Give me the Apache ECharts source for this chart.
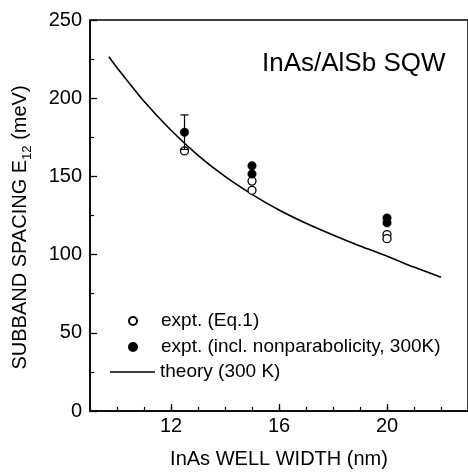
<!DOCTYPE html>
<html>
<head>
<meta charset="utf-8">
<script src="https://cdn.jsdelivr.net/npm/echarts@6/dist/echarts.min.js"></script>
<style>
html,body{margin:0;padding:0;background:#fff;}
#c{width:468px;height:474px;}
</style>
</head>
<body>
<div id="c"></div>
<script>
// ---- data ----
const eq1Width = [12.5, 15, 15, 20, 20];
const eq1Values = [166.3, 147, 141.1, 112.8, 110.2];
const nonparWidth = [12.5, 15, 15, 20, 20];
const nonparValues = [178.2, 156.8, 151.6, 123.4, 120.3];
const errWidth = [12.5];
const errLow = [167.3];
const errHigh = [189.3];
const theoryWidth = [9.7, 10, 11, 12, 13, 14, 15, 16, 17, 18, 19, 20, 21, 22];
const theoryValues = [226.5, 219.5, 198, 179.5, 163.5, 150, 138.5, 128.5, 120, 112.5, 105.5, 99, 92, 85.5];
const xTickLabels = [12, 16, 20];
const seriesNames = ['expt. (Eq.1)', 'expt. (incl. nonparabolicity, 300K)', 'theory (300 K)'];
const titleText = 'InAs/AlSb SQW';

const FONT = 'Liberation Sans, Arial, Helvetica, sans-serif';
const chart = echarts.init(document.getElementById('c'), null, {renderer: 'canvas'});

const pairs = (xs, ys) => xs.map((x, i) => [x, ys[i]]);

const option = {
  backgroundColor: '#fff',
  animation: false,
  title: {
    text: titleText, left: 262, top: 51, padding: 0,
    textStyle: {fontFamily: FONT, fontSize: 26, fontWeight: 'normal', color: '#000'}
  },
  grid: {left: 90, top: 20, width: 380, height: 398, show: true, borderColor: '#000', borderWidth: 1.5, backgroundColor: 'transparent'},
  legend: [
    {data: [seriesNames[0]], left: 128, top: 311, padding: 0, itemWidth: 8, itemHeight: 8,
     textStyle: {fontFamily: FONT, fontSize: 19, color: '#000', lineHeight: 20, padding: [0, 0, 0, 19]}},
    {data: [seriesNames[1]], left: 128, top: 337, padding: 0, itemWidth: 8, itemHeight: 8,
     textStyle: {fontFamily: FONT, fontSize: 19, color: '#000', lineHeight: 20, padding: [0, 0, 0, 19]}},
    {data: [{name: seriesNames[2], icon: 'rect'}], left: 110, top: 362, padding: 0, itemWidth: 45, itemHeight: 1.6,
     textStyle: {fontFamily: FONT, fontSize: 19, color: '#000', lineHeight: 20}}
  ],
  xAxis: [
    {
      type: 'value', min: 9, max: 23, position: 'bottom',
      name: 'InAs WELL WIDTH (nm)', nameLocation: 'middle', nameGap: 38,
      nameTextStyle: {fontFamily: FONT, fontSize: 20, color: '#000'},
      axisLine: {show: true, onZero: false, lineStyle: {color: '#000', width: 1.5}},
      axisTick: {show: true, inside: true, length: 7, customValues: xTickLabels, lineStyle: {color: '#000', width: 1.3}},
      axisLabel: {show: true, margin: 5, customValues: xTickLabels, fontFamily: FONT, fontSize: 20, color: '#000'},
      splitLine: {show: false}
    },
    {
      type: 'value', min: 9, max: 23, interval: 1, position: 'bottom', gridIndex: 0,
      axisLine: {show: false, onZero: false},
      axisTick: {show: true, inside: true, length: 4, lineStyle: {color: '#000', width: 1.2}},
      axisLabel: {show: false},
      splitLine: {show: false}
    }
  ],
  yAxis: {
    type: 'value', min: 0, max: 250, interval: 50,
    name: '{a|SUBBAND SPACING E}{s|12}{a| (meV)}',
    nameLocation: 'middle', nameGap: 60, nameRotate: 90,
    nameTextStyle: {
      fontFamily: FONT, fontSize: 20, color: '#000', padding: [0, 24, 0, 0],
      rich: {
        a: {fontFamily: FONT, fontSize: 20, color: '#000', lineHeight: 24, verticalAlign: 'bottom'},
        s: {fontFamily: FONT, fontSize: 13, color: '#000', lineHeight: 24, verticalAlign: 'bottom', padding: [0, 0, -4, 0]}
      }
    },
    axisLine: {show: true, onZero: false, lineStyle: {color: '#000', width: 1.5}},
    axisTick: {show: true, inside: true, length: 7, lineStyle: {color: '#000', width: 1.3}},
    minorTick: {show: true, splitNumber: 2, length: 4, lineStyle: {color: '#000', width: 1.2}},
    axisLabel: {margin: 8, fontFamily: FONT, fontSize: 20, color: '#000'},
    splitLine: {show: false},
    minorSplitLine: {show: false}
  },
  series: [
    {
      name: seriesNames[0], type: 'scatter', symbol: 'circle', symbolSize: 8,
      itemStyle: {color: '#fff', borderColor: '#000', borderWidth: 1.3, opacity: 1},
      data: pairs(eq1Width, eq1Values), z: 3
    },
    {
      name: seriesNames[1], type: 'scatter', symbol: 'circle', symbolSize: 8.5,
      itemStyle: {color: '#000', borderColor: '#000', borderWidth: 0.5, opacity: 1},
      data: pairs(nonparWidth, nonparValues), z: 4
    },
    {
      name: seriesNames[2], type: 'line', symbol: 'none', smooth: 0.25,
      lineStyle: {color: '#000', width: 1.6},
      itemStyle: {color: '#000'},
      data: pairs(theoryWidth, theoryValues), z: 2
    },
    {
      name: 'errorbar', type: 'custom', z: 5,
      renderItem: function (params, api) {
        const x = api.value(0);
        const lo = api.coord([x, api.value(1)]);
        const hi = api.coord([x, api.value(2)]);
        const hw = 4;
        const st = {stroke: '#000', lineWidth: 1.2};
        return {
          type: 'group',
          children: [
            {type: 'line', shape: {x1: lo[0], y1: lo[1], x2: hi[0], y2: hi[1]}, style: st},
            {type: 'line', shape: {x1: hi[0] - hw, y1: hi[1], x2: hi[0] + hw, y2: hi[1]}, style: st},
            {type: 'line', shape: {x1: lo[0] - hw, y1: lo[1], x2: lo[0] + hw, y2: lo[1]}, style: st}
          ]
        };
      },
      data: errWidth.map((x, i) => [x, errLow[i], errHigh[i]])
    }
  ]
};
chart.setOption(option);
</script>
</body>
</html>
